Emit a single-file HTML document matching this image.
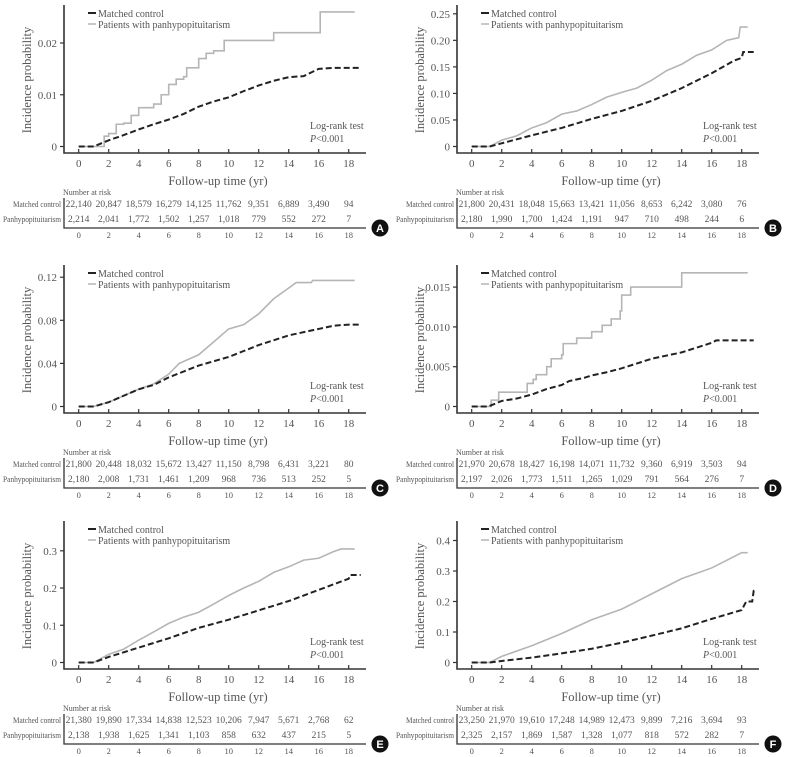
<!DOCTYPE html>
<html><head><meta charset="utf-8"><style>
body{margin:0;background:#fff}
svg{display:block}
text{font-family:"Liberation Serif",serif;fill:#555;font-weight:normal}
</style></head><body>
<svg id="fig" width="785" height="757" viewBox="0 0 785 757"></svg>
<script>
// X axis
const xTicks=[0,2,4,6,8,10,12,14,16,18];
// Panel A
const aTicks=[0,0.01,0.02];
const aTickLabels=["0","0.01","0.02"];
const aPatT=[0,1.5,1.7,2,2.5,3,3.5,4,5,5.5,6,6.5,7,7.2,8,8.5,9,9.7,13,16.1,18.4];
const aPatV=[0,0,0.002,0.0025,0.0043,0.0045,0.006,0.0075,0.0082,0.01,0.012,0.013,0.0135,0.0152,0.017,0.018,0.0185,0.0205,0.022,0.026,0.026];
const aCtlT=[0,1,2,3,4,5,6,7,8,9,10,11,12,13,14,15,16,17,18.8];
const aCtlV=[0,0,0.0012,0.0022,0.0033,0.0043,0.0052,0.0063,0.0077,0.0087,0.0095,0.0107,0.0118,0.0127,0.0134,0.0136,0.015,0.0152,0.0152];
const aRiskCtl=["22,140","20,847","18,579","16,279","14,125","11,762","9,351","6,889","3,490","94"];
const aRiskPat=["2,214","2,041","1,772","1,502","1,257","1,018","779","552","272","7"];
// Panel B
const bTicks=[0,0.05,0.1,0.15,0.2,0.25];
const bTickLabels=["0","0.05","0.10","0.15","0.20","0.25"];
const bPatT=[0,1.2,2,3,4,5,6,7,8,9,10,11,12,13,14,15,16,17,17.8,17.9,18.4];
const bPatV=[0,0,0.012,0.02,0.035,0.045,0.061,0.067,0.079,0.093,0.102,0.11,0.125,0.143,0.155,0.172,0.182,0.2,0.205,0.225,0.225];
const bCtlT=[0,1.2,2,4,6,8,10,12,14,16,17.5,18,18.1,18.8];
const bCtlV=[0,0,0.006,0.021,0.035,0.052,0.067,0.086,0.11,0.138,0.162,0.167,0.178,0.178];
const bRiskCtl=["21,800","20,431","18,048","15,663","13,421","11,056","8,653","6,242","3,080","76"];
const bRiskPat=["2,180","1,990","1,700","1,424","1,191","947","710","498","244","6"];
// Panel C
const cTicks=[0,0.04,0.08,0.12];
const cTickLabels=["0","0.04","0.08","0.12"];
const cPatT=[0,1,2,3,4,5,6,6.7,8,9,10,11,12,13,13.5,14,14.5,15.5,15.6,18.4];
const cPatV=[0,0,0.004,0.01,0.016,0.021,0.03,0.04,0.048,0.06,0.072,0.076,0.086,0.1,0.105,0.11,0.115,0.115,0.117,0.117];
const cCtlT=[0,1,2,4,5,6,8,10,12,14,16,17,18,18.8];
const cCtlV=[0,0,0.004,0.016,0.02,0.027,0.038,0.046,0.057,0.066,0.072,0.075,0.076,0.076];
const cRiskCtl=["21,800","20,448","18,032","15,672","13,427","11,150","8,798","6,431","3,221","80"];
const cRiskPat=["2,180","2,008","1,731","1,461","1,209","968","736","513","252","5"];
// Panel D
const dTicks=[0,0.005,0.01,0.015];
const dTickLabels=["0","0.005","0.010","0.015"];
const dPatT=[0,1.1,1.3,1.8,3.6,3.7,4.1,4.3,5,5.3,6,6.1,7,8,8.7,9.3,9.9,10,10.6,14,18.4];
const dPatV=[0,0,0.0008,0.0018,0.0018,0.0029,0.0034,0.004,0.005,0.006,0.0065,0.0079,0.0086,0.0094,0.0102,0.011,0.012,0.014,0.015,0.0168,0.0168];
const dCtlT=[0,1.1,2,3,4,5,6,6.5,7.5,8,9,10,11,12,13,14,15,16,16.3,18.8];
const dCtlV=[0,0,0.0007,0.001,0.0015,0.0022,0.0027,0.0032,0.0036,0.0039,0.0043,0.0048,0.0054,0.006,0.0064,0.0068,0.0074,0.008,0.0083,0.0083];
const dRiskCtl=["21,970","20,678","18,427","16,198","14,071","11,732","9,360","6,919","3,503","94"];
const dRiskPat=["2,197","2,026","1,773","1,511","1,265","1,029","791","564","276","7"];
// Panel E
const eTicks=[0,0.1,0.2,0.3];
const eTickLabels=["0","0.1","0.2","0.3"];
const ePatT=[0,1,2,3,4,5,6,7,8,9,10,11,12,13,14,15,16,17,17.5,18.4];
const ePatV=[0,0,0.022,0.036,0.06,0.082,0.105,0.122,0.135,0.157,0.18,0.2,0.218,0.242,0.257,0.275,0.28,0.298,0.305,0.305];
const eCtlT=[0,1,2,4,6,8,10,12,14,16,18,18.1,18.8];
const eCtlV=[0,0,0.015,0.04,0.065,0.093,0.115,0.14,0.165,0.195,0.225,0.235,0.235];
const eRiskCtl=["21,380","19,890","17,334","14,838","12,523","10,206","7,947","5,671","2,768","62"];
const eRiskPat=["2,138","1,938","1,625","1,341","1,103","858","632","437","215","5"];
// Panel F
const fTicks=[0,0.1,0.2,0.3,0.4];
const fTickLabels=["0","0.1","0.2","0.3","0.4"];
const fPatT=[0,1.2,2,4,6,8,10,12,14,16,17,18,18.4];
const fPatV=[0,0,0.02,0.055,0.095,0.14,0.175,0.225,0.275,0.31,0.335,0.36,0.36];
const fCtlT=[0,1.2,2,4,6,8,10,12,14,16,18,18.3,18.7,18.8,18.9];
const fCtlV=[0,0,0.005,0.016,0.03,0.045,0.065,0.088,0.112,0.143,0.172,0.2,0.2,0.235,0.235];
const fRiskCtl=["23,250","21,970","19,610","17,248","14,989","12,473","9,899","7,216","3,694","93"];
const fRiskPat=["2,325","2,157","1,869","1,587","1,328","1,077","818","572","282","7"];

const panels=[
 {id:"a",L:"A",ox:0,oy:0,ticks:aTicks,tl:aTickLabels,max:0.02,maxPx:103.5,pt:aPatT,pv:aPatV,ct:aCtlT,cv:aCtlV,rc:aRiskCtl,rp:aRiskPat,step:true},
 {id:"b",L:"B",ox:393,oy:0,ticks:bTicks,tl:bTickLabels,max:0.25,maxPx:132.7,pt:bPatT,pv:bPatV,ct:bCtlT,cv:bCtlV,rc:bRiskCtl,rp:bRiskPat,step:false},
 {id:"c",L:"C",ox:0,oy:260,ticks:cTicks,tl:cTickLabels,max:0.12,maxPx:129.3,pt:cPatT,pv:cPatV,ct:cCtlT,cv:cCtlV,rc:cRiskCtl,rp:cRiskPat,step:false},
 {id:"d",L:"D",ox:393,oy:260,ticks:dTicks,tl:dTickLabels,max:0.015,maxPx:119.4,pt:dPatT,pv:dPatV,ct:dCtlT,cv:dCtlV,rc:dRiskCtl,rp:dRiskPat,step:true},
 {id:"e",L:"E",ox:0,oy:516,ticks:eTicks,tl:eTickLabels,max:0.3,maxPx:111.7,pt:ePatT,pv:ePatV,ct:eCtlT,cv:eCtlV,rc:eRiskCtl,rp:eRiskPat,step:false},
 {id:"f",L:"F",ox:393,oy:516,ticks:fTicks,tl:fTickLabels,max:0.4,maxPx:122,pt:fPatT,pv:fPatV,ct:fCtlT,cv:fCtlV,rc:fRiskCtl,rp:fRiskPat,step:false}
];
const NS="http://www.w3.org/2000/svg";
const svg=document.getElementById("fig");
function mk(tag,attrs,parent,txt){const e=document.createElementNS(NS,tag);for(const k in attrs)e.setAttribute(k,attrs[k]);if(txt!==undefined)e.textContent=txt;parent.appendChild(e);return e;}

panels.forEach(p=>{
 const g=mk("g",{transform:`translate(${p.ox},${p.oy})`},svg);
 
 
 const X=t=>78.7+15*t;
 const Y=v=>146.5-v/p.max*p.maxPx;
 const ax=mk("path",{d:"M64,5V153H366",fill:"none",stroke:"#333","stroke-width":1.6},g);
 
 
 xTicks.forEach(t=>{
  const tk=mk("line",{x1:X(t),x2:X(t),y1:153,y2:149,stroke:"#333","stroke-width":1.2},g);
  
  
  const lb=mk("text",{x:X(t),y:167,"text-anchor":"middle","font-size":11},g,String(t));
  
  
 });
 p.ticks.forEach((v,i)=>{
  const tk=mk("line",{x1:60,x2:64,y1:Y(v),y2:Y(v),stroke:"#333","stroke-width":1.2},g);
  
  
  const lb=mk("text",{x:57,y:Y(v)+4,"text-anchor":"end","font-size":11},g,p.tl[i]);
  
  
 });
 const xt=mk("text",{x:218,y:185,"text-anchor":"middle","font-size":12.5},g,"Follow-up time (yr)");
 
 
 const yt=mk("text",{x:0,y:0,"text-anchor":"middle","font-size":12.5,transform:"translate(31,80) rotate(-90)"},g,"Incidence probability");
 
 
 function path(ts,vs,step){let d="M"+X(ts[0])+","+Y(vs[0]);for(let i=1;i<ts.length;i++){if(step)d+="H"+X(ts[i])+"V"+Y(vs[i]);else d+="L"+X(ts[i])+","+Y(vs[i]);}return d;}
 const pl=mk("path",{d:path(p.pt,p.pv,p.step),fill:"none",stroke:"#b5b5b5","stroke-width":1.6},g);
 
 
 const cl=mk("path",{d:path(p.ct,p.cv,false),fill:"none",stroke:"#222","stroke-width":2,"stroke-dasharray":"6,3"},g);
 
 
 const lg=mk("g",{},g);
 
 
 mk("line",{x1:88,x2:96,y1:13,y2:13,stroke:"#222","stroke-width":2},lg);
 mk("text",{x:98,y:17,"font-size":10},lg,"Matched control");
 mk("line",{x1:88,x2:96,y1:24,y2:24,stroke:"#b5b5b5","stroke-width":1.5},lg);
 mk("text",{x:98,y:28,"font-size":10},lg,"Patients with panhypopituitarism");
 const lr=mk("text",{x:310,y:129,"font-size":10},g,"Log-rank test");
 
 
 const pv=mk("text",{x:310,y:142,"font-size":10},g);
 
 
 mk("tspan",{"font-style":"italic"},pv,"P");
 mk("tspan",{},pv,"<0.001");
 const tb=mk("g",{},g);
 
 
 mk("text",{x:63,y:195,"font-size":8.5,textLength:48,lengthAdjust:"spacingAndGlyphs"},tb,"Number at risk");
 mk("text",{x:13,y:207,"font-size":8.5,textLength:48,lengthAdjust:"spacingAndGlyphs"},tb,"Matched control");
 mk("text",{x:3,y:222,"font-size":8.5,textLength:58,lengthAdjust:"spacingAndGlyphs"},tb,"Panhypopituitarism");
 mk("path",{d:"M64,198V228H366",fill:"none",stroke:"#333","stroke-width":1.3},tb);
 xTicks.forEach((t,i)=>{
  mk("text",{x:X(t),y:207,"text-anchor":"middle","font-size":9.5},tb,p.rc[i]);
  mk("text",{x:X(t),y:222,"text-anchor":"middle","font-size":9.5},tb,p.rp[i]);
  mk("text",{x:X(t),y:238,"text-anchor":"middle","font-size":8.5},tb,String(t));
 });
 const bd=mk("g",{},g);
 
 
 mk("circle",{cx:380,cy:228,r:8.5,fill:"#111"},bd);
 mk("text",{x:380,y:232,"text-anchor":"middle","font-size":11,style:"fill:#fff;font-weight:bold;font-family:'Liberation Sans',sans-serif"},bd,p.L);
});
</script>
</body></html>
